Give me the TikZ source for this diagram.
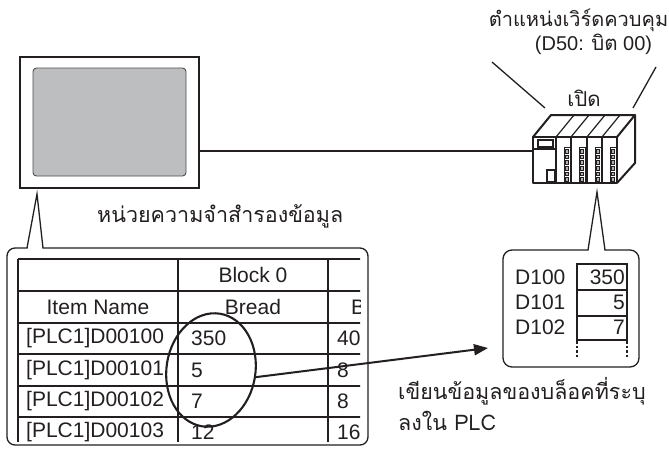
\documentclass[tikz,border=0pt]{standalone}
\usepackage{fontspec}
\setmainfont{Liberation Sans}
\newfontfamily\thaifont[Script=Thai]{Loma}
\usetikzlibrary{arrows.meta,shapes.geometric}

\definecolor{ink}{HTML}{231F20}
\definecolor{screen}{HTML}{BDBEC0}

\tikzset{
  txt/.style={inner sep=0pt, text=ink, font=\fontsize{21}{24}\selectfont},
  thtxt/.style={inner sep=0pt, text=ink, font=\thaifont\fontsize{21.5}{24}\selectfont},
  hline/.style={draw=ink, line width=1.7pt},
  vline/.style={draw=ink, line width=1.1pt},
  calloutbox/.style={draw=ink, line width=1.3pt, rounded corners=8pt, inner sep=0pt},
  pointer/.style={draw=ink, line width=1.3pt, line join=miter},
  plcline/.style={draw=ink, line width=2pt, line join=round},
}

\begin{document}
\begin{tikzpicture}[x=1pt,y=-1pt]
\useasboundingbox (0,0) rectangle (669,448);

% ---------- operator panel ----------
\node[draw=ink, line width=2.6pt, minimum width=179pt, minimum height=131pt, inner sep=0pt] (monitor) at (109.5,122.5) {};
\node[draw=ink!80, fill=screen, line width=0.9pt, rounded corners=3.5pt,
      minimum width=153pt, minimum height=108pt, inner sep=0pt] (screen) at (109.5,122) {};

% ---------- PLC rack ----------
\coordinate (plc) at (533,151);
\begin{scope}
  % top and right faces
  \draw[plcline] (533,137) -- (551,115) -- (635,115) -- (617,137);
  \draw[plcline] (635,115) -- (635,163) -- (617,183);
  % slot lines on the top face
  \foreach \sx in {556,571,587,602} {
    \draw[draw=ink, line width=1.2pt] (\sx,137) -- (\sx+18,115);
  }
  % module separators and LED strips
  \foreach \sx in {556,571,587,602} {
    \draw[draw=ink, line width=1.2pt] (\sx,137) -- (\sx,183);
    \draw[draw=ink, line width=0.8pt, fill=white] (\sx+8,147) rectangle (\sx+14,182);
    \foreach \k in {0,...,5} {
      \draw[draw=ink, line width=0.6pt, fill=ink!35] (\sx+9.3,149.5+5.6*\k) rectangle (\sx+12.7,153+5.6*\k);
    }
  }
  % CPU module
  \draw[draw=ink, line width=1.1pt] (538,140) rectangle (553,147);
  \draw[draw=ink, line width=1.1pt] (533,149) -- (556,149);
  \draw[draw=ink, line width=1.1pt] (547,170) rectangle (555,182);
  % front face
  \draw[plcline] (533,137) rectangle (617,183);
\end{scope}

% ---------- cable ----------
\draw[draw=ink, line width=1.3pt] (plc -| monitor.east) -- (plc);

% ---------- control word label ----------
\node[thtxt, font=\thaifont\fontsize{20}{24}\selectfont] (ctrl) at (578.5,20) {ตำแหน่งเวิร์ดควบคุม};
\node[txt, font=\fontsize{20}{22}\selectfont] (addr) at (593.5,44) {(D50: {\thaifont\fontsize{20.5}{22}\selectfont บิต} 00)};
\node[thtxt, font=\thaifont\fontsize{20.5}{24}\selectfont] (onlbl) at (584,98) {เปิด};
\coordinate (lpt) at (492,62);
\coordinate (rpt) at (656,67);
\draw[draw=ink, line width=1.3pt] (lpt) -- (545,108);
\draw[draw=ink, line width=1.3pt] (rpt) -- (633,108);

% ---------- backup memory callout ----------
\node[thtxt, anchor=west] (bklbl) at (97,216) {หน่วยความจำสำรองข้อมูล};
\node[calloutbox, minimum width=361pt, minimum height=197pt] (backup) at (187.5,346.5) {};
\fill[white] (27.6,249.2) -- (37,195) -- (42.4,249.2) -- cycle;
\draw[pointer] (27,248) -- (37,194) -- (43,248);

\begin{scope}
  \clip (16,257) rectangle (360,441);
  \foreach \ry in {259,291,323,354,386,417} {
    \draw[hline] (18,\ry) -- (362,\ry);
  }
  \foreach \cx in {18,178,328} {
    \draw[vline] (\cx,259) -- (\cx,446);
  }
  \node[txt] (hblock) at (253,275) {Block 0};
  \node[txt] (hitem) at (98,307) {Item Name};
  \node[txt] (hbread) at (253,307) {Bread};
  \node[txt, anchor=west] (hnext) at (351,307) {B};
  \node[txt, anchor=west] (r1) at (26,338.5) {[PLC1]D00100};
  \node[txt, anchor=west] (r2) at (26,370) {[PLC1]D00101};
  \node[txt, anchor=west] (r3) at (26,401.5) {[PLC1]D00102};
  \node[txt, anchor=west] (r4) at (26,432.5) {[PLC1]D00103};
  \node[txt, anchor=west] (v1) at (191,338.5) {350};
  \node[txt, anchor=west] (v2) at (191,370) {5};
  \node[txt, anchor=west] (v3) at (191,401.5) {7};
  \node[txt, anchor=west] (v4) at (191,432.5) {12};
  \node[txt, anchor=west] (w1) at (337,338.5) {40};
  \node[txt, anchor=west] (w2) at (337,370) {8};
  \node[txt, anchor=west] (w3) at (337,401.5) {8};
  \node[txt, anchor=west] (w4) at (337,432.5) {16};
\end{scope}

% selected block values
\node[draw=ink, ellipse, line width=2.1pt, minimum width=89pt, minimum height=114pt,
      inner sep=0pt, rotate=-9] (sel) at (211,370) {};

% ---------- PLC memory callout ----------
\node[calloutbox, rounded corners=9pt, minimum width=136pt, minimum height=117pt] (mem) at (571,308.5) {};
\fill[white] (588.6,251.2) -- (597,193) -- (604.4,251.2) -- cycle;
\draw[pointer] (588,250) -- (597,192) -- (605,250);

\draw[draw=ink, line width=1.1pt] (577,264) rectangle (627,340);
\draw[draw=ink, line width=1.1pt] (577,290) -- (627,290);
\draw[draw=ink, line width=1.7pt] (577,316) -- (627,316);
\draw[draw=ink, line width=1.1pt, dash pattern=on 2.5pt off 2pt] (577,341) -- (577,358);
\draw[draw=ink, line width=1.1pt, dash pattern=on 2.5pt off 2pt] (627,341) -- (627,358);
\node[txt, anchor=west] (d100) at (515,277.5) {D100};
\node[txt, anchor=west] (d101) at (515,302) {D101};
\node[txt, anchor=west] (d102) at (515,327.5) {D102};
\node[txt, anchor=east] (m100) at (625,277.5) {350};
\node[txt, anchor=east] (m101) at (625,302) {5};
\node[txt, anchor=east] (m102) at (625,327.5) {7};

% ---------- write arrow ----------
\coordinate (wtip) at (488,348);
\draw[draw=ink, line width=2pt, -{Triangle[length=14pt,width=11pt]}] (sel.east) -- (wtip);

\node[thtxt, anchor=west] (wr1) at (398,391) {เขียนข้อมูลของบล็อคที่ระบุ};
\node[thtxt, anchor=west] (wr2) at (398,421) {ลงใน PLC};

\end{tikzpicture}
\end{document}
